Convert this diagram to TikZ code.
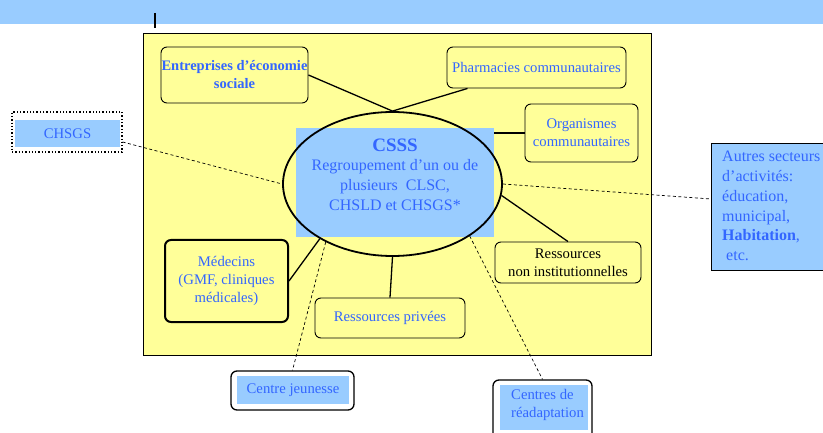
\documentclass[tikz,border=0pt]{standalone}
\usepackage{fontspec}
\setmainfont{Liberation Serif}
\usetikzlibrary{shapes.geometric,calc}
\definecolor{skyfill}{RGB}{153,204,255}
\definecolor{paleyellow}{RGB}{255,255,153}
\definecolor{txtblue}{RGB}{51,102,255}

\begin{document}
\begin{tikzpicture}[
  x=1pt, y=-1pt,
  font=\fontsize{14.7}{18}\selectfont,
  box/.style={draw, rounded corners=6pt, line width=0.9pt, fill=paleyellow, align=center, text=txtblue, inner sep=0pt},
  blue/.style={fill=skyfill, inner sep=0pt, align=center, text=txtblue},
  link/.style={line width=1.3pt},
  dlink/.style={dashed, line width=0.7pt, dash pattern=on 3pt off 2.5pt}
]
\useasboundingbox (0,0) rectangle (823,433);
\fill[skyfill] (0,0) rectangle (823,24);
\draw[line width=1.3pt] (155,13) -- (155,28);
\draw[fill=paleyellow, line width=0.9pt] (143,33) rectangle (651,355);

\node[box, minimum width=147pt, minimum height=56pt, font=\fontsize{14.5}{18}\selectfont\bfseries]
  (ent) at (234.5,75) {Entreprises d'économie\\sociale};
\node[box, minimum width=179pt, minimum height=41pt] (pharm) at (536.5,67.5) {Pharmacies communautaires};
\node[box, minimum width=113pt, minimum height=58pt] (org) at (581.5,133) {Organismes\\communautaires};
\node[box, minimum width=123pt, minimum height=82pt, line width=2pt] (med) at (226.5,281)
  {Médecins\\(GMF, cliniques\\médicales)};
\node[box, minimum width=150pt, minimum height=40pt] (priv) at (390,318) {Ressources privées};
\node[box, minimum width=146pt, minimum height=41pt, text=black] (nonins) at (568,262.5)
  {Ressources\\non institutionnelles};

\node[blue, minimum width=198pt, minimum height=109pt] (csss) at (395,182.5) {};
\node[blue, anchor=north, font=\fontsize{16}{20}\selectfont] (csstxt) at (395,139)
  {{\fontsize{19}{22}\selectfont\bfseries CSSS}\\[-1pt]
   Regroupement d'un ou de\\plusieurs~ CLSC,\\CHSLD et CHSGS*};
\node[draw, ellipse, line width=1.8pt, minimum width=219pt, minimum height=144pt] (ell) at (392.5,184) {};

\node[draw, dotted, line width=1.3pt, minimum width=110pt, minimum height=40pt] (chsgs) at (67,132) {};
\node[blue, minimum width=105pt, minimum height=27pt] (chsgstxt) at (67.5,133.5) {CHSGS};

\node[draw, fill=skyfill, line width=1pt, minimum width=125pt, minimum height=127pt, anchor=north west]
  (autres) at (711,143) {};
\node[blue, fill=none, anchor=north west, align=left, font=\fontsize{16}{19.8}\selectfont]
  (autrestxt) at (722,151)
  {Autres secteurs\\d'activités:\\éducation,\\municipal,\\\textbf{Habitation},\\\hspace*{4pt}etc.};

\node[box, fill=white, minimum width=123pt, minimum height=39pt, line width=1.3pt] (cj) at (292.5,390.5) {};
\node[blue, minimum width=112pt, minimum height=28pt] (cjtxt) at (293,390) {Centre jeunesse};
\node[box, fill=white, minimum width=99pt, minimum height=60pt, line width=1.3pt] (cr) at (542.5,410) {};
\node[blue, minimum width=88pt, minimum height=45pt, anchor=north west] (crfill) at (500,385) {};
\node[blue, fill=none, anchor=north west, align=left] (crtxt) at (511,389) {Centres de\\réadaptation};

\draw[link] (ent.east) -- (ell.north);
\draw[link] ([xshift=21pt]pharm.south west) -- (ell.north);
\draw[link] (org.west) -- (org.west -| csss.east);
\draw[link] (ell.-6) -- (nonins.north);
\draw[link] (ell.south) -- (priv.north);
\draw[link] (ell.-143) -- (med.east);
\draw[dlink] ([yshift=-10pt]chsgs.east) -- (ell.west);
\draw[dlink] (ell.east) -- ([yshift=8pt]autres.west);
\draw[dlink] (ell.-139) -- (cj.north);
\draw[dlink] (ell.-34) -- (cr.north);
\end{tikzpicture}
\end{document}
